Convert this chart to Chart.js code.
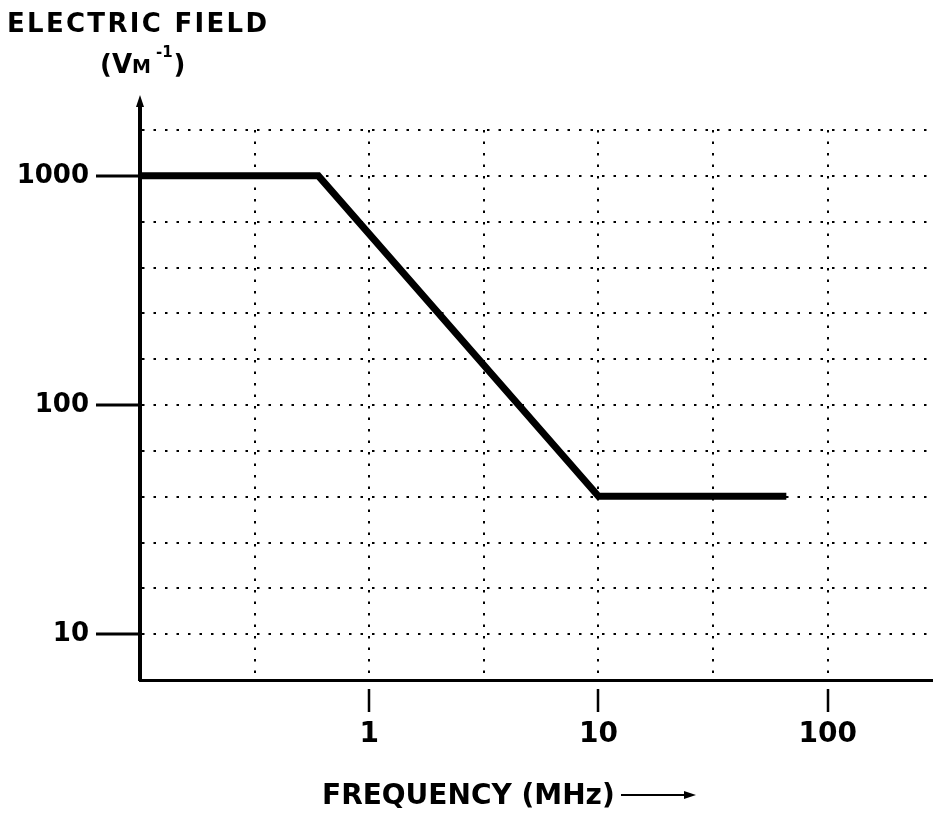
<!DOCTYPE html>
<html>
<head>
<meta charset="utf-8">
<title>Electric field vs frequency</title>
<script src="https://cdn.jsdelivr.net/npm/chart.js@4.4.1/dist/chart.umd.min.js"></script>
<style>
  html, body { margin: 0; padding: 0; background: #fff; }
  canvas { display: block; }
</style>
</head>
<body>
<canvas id="field-chart" width="933" height="837"></canvas>
<script>
// values
const freqMHz = [0.1, 0.6, 10, 66];
const fieldVm = [1000, 1000, 40, 40];

// ticks that carry a label and a tick mark
const xTickLabels = [1, 10, 100];
const yTickLabels = [10, 100, 1000];

// dotted grid: half decades on x, 0.2 decade on y
const xGrid = [0.316, 1, 3.16, 10, 31.6, 100];
const yGrid = [10, 15.85, 25.12, 39.81, 63.1, 100, 158.5, 251.2, 398.1, 631, 1000, 1585];

const FONT = "'DejaVu Sans', Verdana, sans-serif";

const points = freqMHz.map((f, i) => ({ x: f, y: fieldVm[i] }));

// axis arrows and the two axis titles
const decorations = {
    id: 'decorations',
    afterDraw(chart) {
        const { ctx, chartArea } = chart;
        const ax = chartArea.left;
        ctx.save();
        ctx.fillStyle = '#000';
        ctx.strokeStyle = '#000';

        // y axis continues above the plot and ends in an arrow
        ctx.lineWidth = 4;
        ctx.beginPath();
        ctx.moveTo(ax, chartArea.top + 2);
        ctx.lineTo(ax, chartArea.top - 26);
        ctx.stroke();
        ctx.beginPath();
        ctx.moveTo(ax, chartArea.top - 35);
        ctx.lineTo(ax + 4, chartArea.top - 23);
        ctx.lineTo(ax - 4, chartArea.top - 23);
        ctx.closePath();
        ctx.fill();

        // y title
        ctx.textBaseline = 'alphabetic';
        ctx.textAlign = 'left';
        ctx.letterSpacing = '2.3px';
        ctx.font = 'bold 26px ' + FONT;
        ctx.fillText('ELECTRIC FIELD', 7, 32);

        ctx.letterSpacing = '0px';
        let x = 100;
        ctx.font = 'bold 26px ' + FONT;
        ctx.fillText('(V', x, 73);
        x += ctx.measureText('(V').width;
        ctx.font = 'bold 19px ' + FONT;
        ctx.fillText('M', x, 73);
        x += ctx.measureText('M').width + 5;
        ctx.font = 'bold 15px ' + FONT;
        ctx.fillText('-1', x, 57);
        x += ctx.measureText('-1').width + 1;
        ctx.font = 'bold 26px ' + FONT;
        ctx.fillText(')', x, 73);

        // x title with its arrow
        ctx.font = 'bold 28px ' + FONT;
        ctx.fillText('FREQUENCY (MHz)', 322, 804);
        ctx.lineWidth = 2;
        ctx.beginPath();
        ctx.moveTo(621, 795);
        ctx.lineTo(686, 795);
        ctx.stroke();
        ctx.beginPath();
        ctx.moveTo(696, 795);
        ctx.lineTo(684, 791);
        ctx.lineTo(684, 799);
        ctx.closePath();
        ctx.fill();
        ctx.restore();
    }
};

new Chart(document.getElementById('field-chart'), {
    type: 'line',
    data: {
        datasets: [{
            label: 'Electric field',
            data: points,
            borderColor: '#000',
            borderWidth: 7,
            borderJoinStyle: 'miter',
            pointRadius: 0,
            tension: 0
        }]
    },
    options: {
        responsive: false,
        animation: false,
        layout: { padding: { top: 130, left: 0, right: 0, bottom: 0 } },
        plugins: {
            legend: { display: false },
            tooltip: { enabled: false }
        },
        scales: {
            x: {
                type: 'logarithmic',
                min: 0.1,
                max: 288,
                afterBuildTicks: s => { s.ticks = xGrid.map(v => ({ value: v })); },
                afterFit: s => { s.height = 157; },
                grid: {
                    color: '#000',
                    lineWidth: 2,
                    tickLength: 32,
                    tickWidth: 2.5,
                    tickColor: c => xTickLabels.includes(c.tick.value) ? '#000' : 'rgba(0,0,0,0)',
                    tickBorderDash: [0, 7, 25, 100]
                },
                border: { color: '#000', width: 3, dash: [2.5, 9] },
                ticks: {
                    autoSkip: false,
                    maxRotation: 0,
                    padding: 6,
                    color: '#000',
                    font: { family: FONT, size: 28, weight: 'bold' },
                    callback: v => xTickLabels.includes(v) ? String(v) : ''
                }
            },
            y: {
                type: 'logarithmic',
                min: 6.31,
                max: 1585,
                afterBuildTicks: s => { s.ticks = yGrid.map(v => ({ value: v })); },
                afterFit: s => { s.width = 140; },
                grid: {
                    color: '#000',
                    lineWidth: 2,
                    tickLength: 44,
                    tickWidth: 3,
                    tickColor: c => yTickLabels.includes(c.tick.value) ? '#000' : 'rgba(0,0,0,0)'
                },
                border: { color: '#000', width: 4, dash: [2.5, 9] },
                ticks: {
                    autoSkip: false,
                    padding: 7,
                    color: '#000',
                    font: { family: FONT, size: 26, weight: 'bold' },
                    callback: v => yTickLabels.includes(v) ? String(v) : ''
                }
            }
        }
    },
    plugins: [decorations]
});
</script>
</body>
</html>
